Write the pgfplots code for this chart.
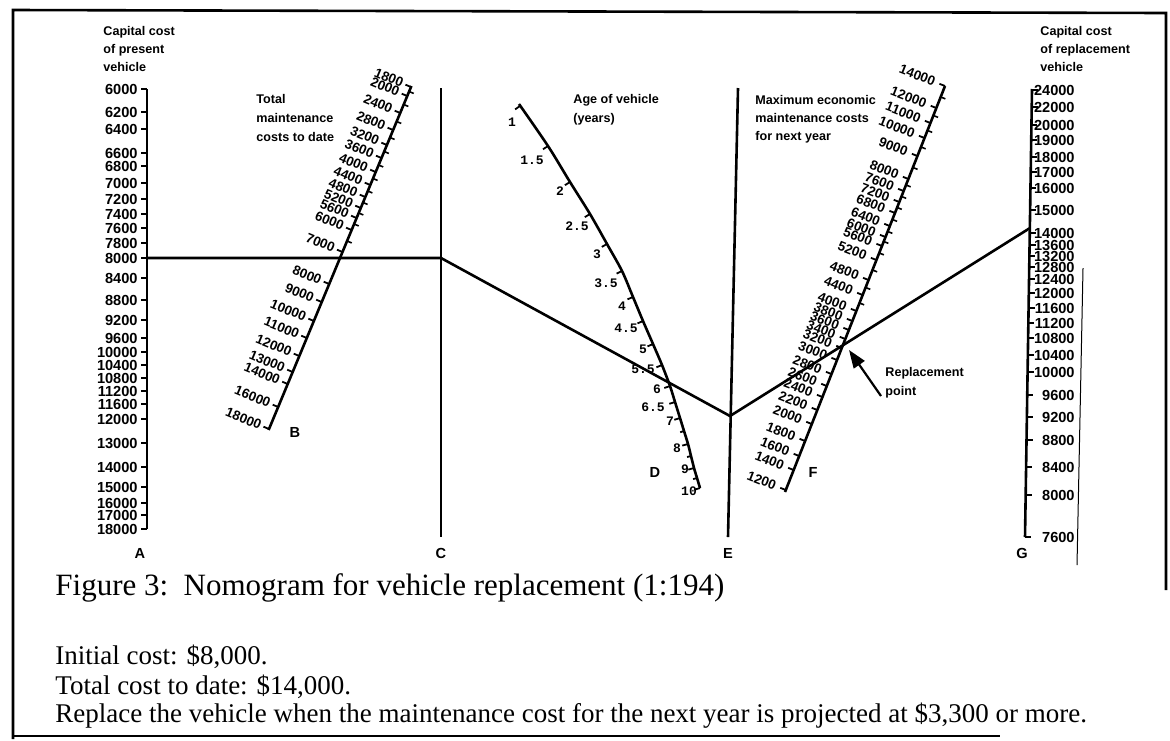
\documentclass[border=0pt]{standalone}
\usepackage{pgfplots}
\pgfplotsset{compat=1.18}
\usepackage{pgfplotstable}
\usepackage{fontspec}
\setmainfont{Liberation Serif}
\newfontfamily\lsans{Liberation Sans}
\newfontfamily\lmono{Liberation Mono}
\usetikzlibrary{arrows.meta}
\newcommand\labf{\lsans\bfseries\fontsize{7.3}{8.5}\selectfont}
\newcommand\slabf{\lsans\bfseries\fontsize{6.7}{8}\selectfont}
\newcommand\titf{\lsans\bfseries\fontsize{6.3}{8}\selectfont}
\newcommand\monof{\lmono\bfseries\fontsize{6.5}{7.5}\selectfont}
\pgfdeclareplotmark{tickL}{\pgfpathmoveto{\pgfpoint{0pt}{0pt}}\pgfpathlineto{\pgfpoint{-\pgfplotmarksize}{0pt}}\pgfusepathqstroke}
\pgfdeclareplotmark{tickR}{\pgfpathmoveto{\pgfpoint{0pt}{0pt}}\pgfpathlineto{\pgfpoint{\pgfplotmarksize}{0pt}}\pgfusepathqstroke}

\pgfplotstableread{
x lx y lab
147 139 89 6000
147 139 112 6200
147 139 129 6400
147 139 153 6600
147 139 166 6800
147 139 183 7000
147 139 199 7200
147 139 214 7400
147 139 228 7600
147 139 243 7800
147 139 258 8000
147 139 278 8400
147 139 300 8800
147 139 320 9200
147 139 338 9600
147 139 352 10000
147 139 365 10400
147 139 378 10800
147 139 391 11200
147 139 404 11600
147 139 419 12000
147 139 443 13000
147 139 467 14000
147 139 487 15000
147 139 503 16000
147 139 515 17000
147 139 529 18000
}\Atab

\pgfplotstableread{
x y lx ly lab
411.0 87 403.6 83.9 1800
407.2 96 399.8 92.9 2000
400.2 113 392.8 109.9 2400
393.1 130 385.7 126.9 2800
386.9 145 379.5 141.9 3200
381.5 158 374.1 154.9 3600
375.7 172 368.3 168.9 4000
370.3 185 362.9 181.9 4400
365.3 197 357.9 193.9 4800
360.8 208 353.4 204.9 5200
356.6 218 349.2 214.9 5600
351.6 230 344.2 226.9 6000
342.5 252 335.1 248.9 7000
329.2 284 321.8 280.9 8000
321.7 302 314.3 298.9 9000
313.9 321 306.5 317.9 10000
306.8 338 299.4 334.9 11000
299.3 356 291.9 352.9 12000
292.7 372 285.3 368.9 13000
287.7 384 280.3 380.9 14000
278.2 407 270.8 403.9 16000
269.0 429 261.6 425.9 18000
}\Btab

\pgfplotstableread{
x y
409.1 91.5
403.7 104.5
396.6 121.5
390.0 137.5
384.2 151.5
378.6 165
373.0 178.5
367.8 191
363.0 202.5
358.7 213
354.1 224
347.1 241
}\Bmin

\pgfplotstableread{
x y lx ly lab
945.0 86 935.7 82.3 14000
936.3 108 927.0 104.3 12000
930.4 123 921.1 119.3 11000
924.5 138 915.2 134.3 10000
917.4 156 908.1 152.3 9000
908.4 179 899.1 175.3 8000
903.6 191 894.3 187.3 7600
899.3 202 890.0 198.3 7200
895.0 213 885.7 209.3 6800
889.8 226 880.5 222.3 6400
885.5 237 876.2 233.3 6000
882.0 246 872.7 242.3 5600
876.4 260 867.1 256.3 5200
868.6 280 859.3 276.3 4800
862.7 295 853.4 291.3 4400
856.4 311 847.1 307.3 4000
852.4 321 843.1 317.3 3800
848.9 330 839.6 326.3 3600
845.3 339 836.0 335.3 3400
841.8 348 832.5 344.3 3200
837.0 360 827.7 356.3 3000
831.5 374 822.2 370.3 2800
826.8 386 817.5 382.3 2600
822.5 397 813.2 393.3 2400
817.3 410 808.0 406.3 2200
811.8 424 802.5 420.3 2000
805.1 441 795.8 437.3 1800
799.2 456 789.9 452.3 1600
793.7 470 784.4 466.3 1400
785.8 490 776.5 486.3 1200
}\Ftab

\pgfplotstableread{
x y
940.7 97
933.4 115.5
927.5 130.5
921.0 147
912.9 167.5
906.0 185
901.5 196.5
897.1 207.5
892.4 219.5
887.7 231.5
883.7 241.5
879.2 253
872.5 270
865.6 287.5
859.5 303
}\Fmin

\pgfplotstableread{
x lx y lab
1032.0 1076 90 24000
1031.7 1076 107 22000
1031.4 1076 125 20000
1031.2 1076 140 19000
1030.9 1076 157 18000
1030.7 1076 172 17000
1030.4 1076 188 16000
1030.1 1076 210 15000
1029.7 1076 233 14000
1029.6 1076 245 13600
1029.4 1076 256 13200
1029.2 1076 267 12800
1029.0 1076 279 12400
1028.8 1076 293 12000
1028.6 1076 308 11600
1028.3 1076 323 11200
1028.1 1076 338 10800
1027.8 1076 355 10400
1027.6 1076 372 10000
1027.2 1076 395 9600
1026.9 1076 417 9200
1026.5 1076 440 8800
1026.1 1076 467 8400
1025.7 1076 495 8000
1025.0 1076 537 7600
}\Gtab

\pgfplotstableread{
x y
519 104
548 146
570 182
590 214
607 244
622 271
633 297
643 321
653 344
662 365
670 386
675 402
680 418
684 431
688 444
691 456
694 468
697 478
700 488
}\Dcurve

\pgfplotstableread{
lx ly lab
512 122 1
532 160 1.5
560 191 2
577 226 2.5
597 254 3
606 283 3.5
622 306 4
626 328 4.5
643 349 5
643 369 5.5
657 389 6
653 407 6.5
670 421 7
677 448 8
685 469 9
689 491 10
}\Dlab

\begin{document}
\begin{tikzpicture}
\begin{axis}[width=585pt,height=369.5pt,scale only axis,
  xmin=0,xmax=1170,ymin=0,ymax=739,y dir=reverse,
  hide axis,clip=false]
\addplot[draw=none] coordinates {(0,0)(1170,739)};
% frame
\addplot[black,line width=1.3pt] coordinates {(13,739)(13,10)(1166,13)(1166,590)};
\addplot[black,line width=1.1pt] coordinates {(13,736)(1000,736)};
\addplot[black,line width=0.5pt] coordinates {(1083,268)(1077,565)};
% scale lines
\addplot[black,line width=1.3pt] coordinates {(147,89)(147,529)};
\addplot[black,line width=1.3pt] coordinates {(411.4,86)(268.6,430)};
\addplot[black,line width=1.3pt] coordinates {(441,88)(441,537)};
\addplot[black,line width=1.3pt,smooth] table[x=x,y=y] {\Dcurve};
\addplot[black,line width=1.3pt] coordinates {(738,88)(728,537)};
\addplot[black,line width=1.3pt] coordinates {(945,86)(785,492)};
\addplot[black,line width=1.3pt] coordinates {(1032,89)(1025,537)};
% solution line
\addplot[black,line width=1.3pt] coordinates {(147,258)(441,258)(730,416)(1030,228)};
% A
\addplot[black,only marks,mark=tickL,mark size=3pt,mark options={line width=0.9pt}] table[x=x,y=y] {\Atab};
\addplot[draw=none,mark=none,nodes near coords,point meta=explicit symbolic,
  every node near coord/.append style={anchor=east,font=\labf,inner sep=0.5pt}] table[x=lx,y=y,meta=lab] {\Atab};
% B
\addplot[black,only marks,mark=tickL,mark size=3pt,mark options={line width=0.9pt,rotate=-22.8}] table[x=x,y=y] {\Btab};
\addplot[black,only marks,mark=tickR,mark size=2.5pt,mark options={line width=0.8pt,rotate=-22.8}] table[x=x,y=y] {\Bmin};
\addplot[draw=none,mark=none,nodes near coords,point meta=explicit symbolic,
  every node near coord/.append style={anchor=east,rotate=-22.8,font=\slabf,inner sep=0.3pt}] table[x=lx,y=ly,meta=lab] {\Btab};
% D
\addplot[black,line width=0.9pt,unbounded coords=jump] coordinates {
(520,106)(515.1,109.4) (0,nan)
(548,146)(543,149.3) (0,nan)
(570,182)(564.9,185.2) (0,nan)
(590,214)(584.8,217.1) (0,nan)
(607,244)(601.8,246.9) (0,nan)
(622,271)(616.6,273.6) (0,nan)
(633,297)(627.5,299.3) (0,nan)
(643,321)(637.5,323.4) (0,nan)
(653,344)(647.5,346.4) (0,nan)
(662,365)(656.4,367.3) (0,nan)
(670,386)(664.3,388) (0,nan)
(675,402)(669.3,403.8) (0,nan)
(680,418)(674.3,419.8) (0,nan)
(684,431)(680.2,432.2) (0,nan)
(688,444)(682.2,445.6) (0,nan)
(691,456)(687.1,457) (0,nan)
(694,468)(688.2,469.6) (0,nan)
(697,478)(693.1,479.1) (0,nan)
(700,488)(694.3,489.7)};
\addplot[draw=none,mark=none,nodes near coords,point meta=explicit symbolic,
  every node near coord/.append style={anchor=center,font=\monof,inner sep=0pt}] table[x=lx,y=ly,meta=lab] {\Dlab};
% F
\addplot[black,only marks,mark=tickL,mark size=3pt,mark options={line width=0.9pt,rotate=-21.5}] table[x=x,y=y] {\Ftab};
\addplot[black,only marks,mark=tickR,mark size=2.5pt,mark options={line width=0.8pt,rotate=-21.5}] table[x=x,y=y] {\Fmin};
\addplot[draw=none,mark=none,nodes near coords,point meta=explicit symbolic,
  every node near coord/.append style={anchor=east,rotate=-21.5,font=\slabf,inner sep=0.3pt}] table[x=lx,y=ly,meta=lab] {\Ftab};
% G
\addplot[black,only marks,mark=tickR,mark size=3pt,mark options={line width=0.9pt}] table[x=x,y=y] {\Gtab};
\addplot[draw=none,mark=none,nodes near coords,point meta=explicit symbolic,
  every node near coord/.append style={anchor=east,font=\labf,inner sep=0.5pt}] table[x=lx,y=y,meta=lab] {\Gtab};
% arrow
\addplot[black,line width=1.1pt,-{Triangle[length=9pt,width=6.5pt]}] coordinates {(881,396)(849,350)};
% titles
\node[anchor=west,font=\titf,inner sep=0pt] at (axis cs:103,32) {Capital cost};
\node[anchor=west,font=\titf,inner sep=0pt] at (axis cs:103,50) {of present};
\node[anchor=west,font=\titf,inner sep=0pt] at (axis cs:103,67) {vehicle};
\node[anchor=west,font=\titf,inner sep=0pt] at (axis cs:256,99) {Total};
\node[anchor=west,font=\titf,inner sep=0pt] at (axis cs:256,118) {maintenance};
\node[anchor=west,font=\titf,inner sep=0pt] at (axis cs:256,137) {costs to date};
\node[anchor=west,font=\titf,inner sep=0pt] at (axis cs:573,100) {Age of vehicle};
\node[anchor=west,font=\titf,inner sep=0pt] at (axis cs:573,119) {(years)};
\node[anchor=west,font=\titf,inner sep=0pt] at (axis cs:755,100) {Maximum economic};
\node[anchor=west,font=\titf,inner sep=0pt] at (axis cs:755,118) {maintenance costs};
\node[anchor=west,font=\titf,inner sep=0pt] at (axis cs:755,137) {for next year};
\node[anchor=west,font=\titf,inner sep=0pt] at (axis cs:1040,32) {Capital cost};
\node[anchor=west,font=\titf,inner sep=0pt] at (axis cs:1040,50) {of replacement};
\node[anchor=west,font=\titf,inner sep=0pt] at (axis cs:1040,67) {vehicle};
\node[anchor=west,font=\titf,inner sep=0pt] at (axis cs:885,373) {Replacement};
\node[anchor=west,font=\titf,inner sep=0pt] at (axis cs:885,392) {point};
% scale letters
\node[font=\labf] at (axis cs:140,553) {A};
\node[font=\labf] at (axis cs:295,432) {B};
\node[font=\labf] at (axis cs:441,553) {C};
\node[font=\labf] at (axis cs:655,472) {D};
\node[font=\labf] at (axis cs:728,553) {E};
\node[font=\labf] at (axis cs:813,472) {F};
\node[font=\labf] at (axis cs:1022,553) {G};
% caption
\node[anchor=west,inner sep=0pt,font=\fontsize{15.5}{18}\selectfont] at (axis cs:55,588) {Figure 3:\ \ Nomogram for vehicle replacement (1:194)};
\node[anchor=west,inner sep=0pt,font=\fontsize{13.5}{16}\selectfont] at (axis cs:55,657) {Initial cost: \$8,000.};
\node[anchor=west,inner sep=0pt,font=\fontsize{13.5}{16}\selectfont] at (axis cs:55,687) {Total cost to date: \$14,000.};
\node[anchor=west,inner sep=0pt,font=\fontsize{13.5}{16}\selectfont] at (axis cs:55,716) {Replace the vehicle when the maintenance cost for the next year is projected at \$3,300 or more.};
\end{axis}
\end{tikzpicture}
\end{document}
